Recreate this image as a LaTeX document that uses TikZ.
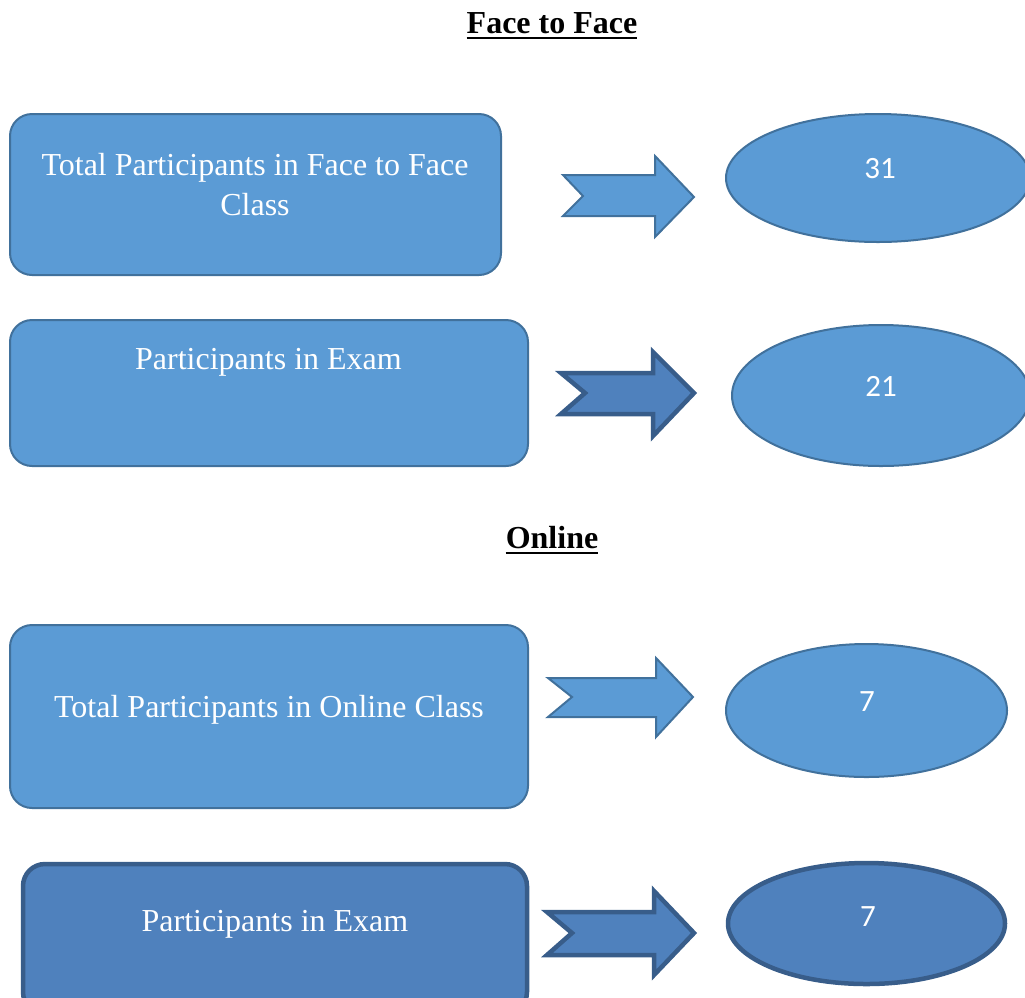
\documentclass[tikz,border=0pt]{standalone}
\usepackage{fontspec}
\setmainfont{Liberation Serif}
\newfontfamily\numfont{Carlito}
\usetikzlibrary{shapes.geometric}
\definecolor{boxfill}{HTML}{5B9BD5}
\definecolor{boxline}{HTML}{41719C}
\definecolor{darkfill}{HTML}{4F81BD}
\definecolor{darkline}{HTML}{385D8A}
\begin{document}
\begin{tikzpicture}[x=1pt,y=-1pt,
  panel/.style={rectangle, rounded corners=22pt, fill=boxfill, draw=boxline, line width=2pt, inner sep=0pt},
  darkpanel/.style={panel, fill=darkfill, draw=darkline, line width=4.5pt},
  oval/.style={ellipse, fill=boxfill, draw=boxline, line width=2pt, inner sep=0pt},
  darkoval/.style={oval, fill=darkfill, draw=darkline, line width=4.5pt},
  blockarrow/.style={fill=boxfill, draw=boxline, line width=2pt, line join=miter},
  darkblockarrow/.style={blockarrow, fill=darkfill, draw=darkline, line width=4.5pt},
  label/.style={text=white, font=\fontsize{32}{40}\selectfont, anchor=base, inner sep=0pt},
  num/.style={text=white, font=\numfont\fontsize{31}{37}\selectfont, anchor=base, inner sep=0pt},
  heading/.style={font=\bfseries\fontsize{32}{38}\selectfont, anchor=base, inner sep=0pt}]
\useasboundingbox (0,0) rectangle (1025,997);
\clip (0,0) rectangle (1025,997);

% section headings
\node[heading] (h1) at (552,33) {Face to Face};
\draw[line width=2.6pt] ([yshift=-5pt]h1.base west) -- ([yshift=-5pt]h1.base east);
\node[heading] (h2) at (552,548) {Online};
\draw[line width=2.6pt] ([yshift=-5pt]h2.base west) -- ([yshift=-5pt]h2.base east);

% face to face: class size
\node[panel, minimum width=491pt, minimum height=161pt] (b1) at (255.5,194.5) {};
\node[label, align=center] (t1) at (255,215) {Total Participants in Face to Face\\Class};
\draw[blockarrow] (563,175) -- (655,175) -- (655,156) -- (694,197) -- (655,237) -- (655,216) -- (563,216) -- (583,196) -- cycle;
\node[oval, minimum width=304pt, minimum height=128pt] (e1) at (878,178) {};
\node[num] (n1) at (880,178) {31};

% face to face: exam
\node[panel, minimum width=518pt, minimum height=146pt] (b2) at (269,393) {};
\node[label] (t2) at (268.5,369) {Participants in Exam};
\draw[darkblockarrow] (561,373) -- (653,373) -- (653,352) -- (694,393) -- (653,436) -- (653,414) -- (561,414) -- (585,393) -- cycle;
\node[oval, minimum width=298pt, minimum height=141pt] (e2) at (881,395.5) {};
\node[num] (n2) at (881,396) {21};

% online: class size
\node[panel, minimum width=518pt, minimum height=183pt] (b3) at (269,716.5) {};
\node[label] (t3) at (269,717) {Total Participants in Online Class};
\draw[blockarrow] (548,678) -- (656,678) -- (656,658) -- (693,697) -- (656,737) -- (656,717) -- (548,717) -- (572,697) -- cycle;
\node[oval, minimum width=281pt, minimum height=133pt] (e3) at (866.5,710.5) {};
\node[num] (n3) at (867,711) {7};

% online: exam
\node[darkpanel, minimum width=504pt, minimum height=150pt] (b4) at (275,939) {};
\node[label] (t4) at (275,931) {Participants in Exam};
\draw[darkblockarrow] (547,912) -- (654,912) -- (654,891) -- (694,933) -- (654,975) -- (654,955) -- (547,955) -- (572,933) -- cycle;
\node[darkoval, minimum width=277pt, minimum height=121pt] (e4) at (866.5,923.5) {};
\node[num] (n4) at (868,926) {7};
\end{tikzpicture}
\end{document}
